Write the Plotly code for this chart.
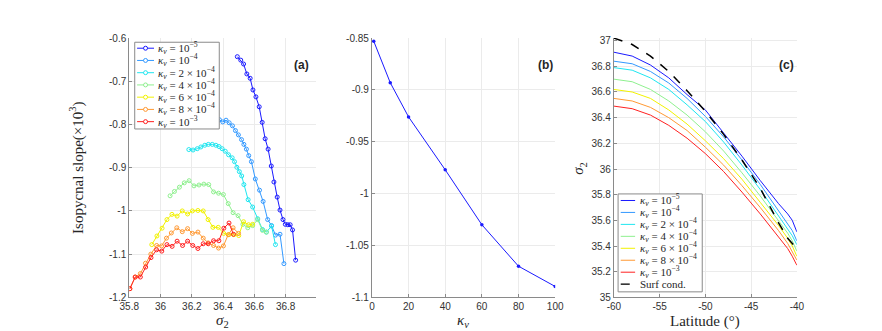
import plotly.graph_objects as go

W, H = 882, 331

# ---- panel (a): isopycnal slope vs sigma2 ----
sig_k5 = [36.491, 36.513, 36.531, 36.552, 36.573, 36.591, 36.610, 36.631, 36.650, 36.669, 36.688,
          36.708, 36.725, 36.746, 36.764, 36.783, 36.798, 36.814, 36.829, 36.844, 36.864]
slp_k5 = [-0.643, -0.651, -0.660, -0.683, -0.693, -0.720, -0.736, -0.759, -0.795, -0.833, -0.857,
          -0.896, -0.933, -0.968, -0.998, -1.020, -1.031, -1.032, -1.032, -1.044, -1.114]

sig_k4 = [36.291, 36.314, 36.336, 36.358, 36.377, 36.398, 36.419, 36.439, 36.460, 36.479, 36.498,
          36.518, 36.533, 36.549, 36.564, 36.581, 36.606, 36.633, 36.656, 36.685, 36.710, 36.735,
          36.764, 36.789]
slp_k4 = [-0.782, -0.774, -0.780, -0.785, -0.789, -0.794, -0.790, -0.796, -0.803, -0.814, -0.824,
          -0.835, -0.846, -0.857, -0.872, -0.886, -0.926, -0.952, -0.978, -1.020, -1.034, -1.056,
          -1.054, -1.122]

sig_k2 = [36.181, 36.208, 36.235, 36.258, 36.283, 36.306, 36.331, 36.354, 36.374, 36.394, 36.414,
          36.435, 36.458, 36.473, 36.488, 36.504, 36.519, 36.533, 36.560, 36.589, 36.621, 36.652,
          36.677, 36.710, 36.735]
slp_k2 = [-0.858, -0.859, -0.856, -0.852, -0.848, -0.846, -0.846, -0.848, -0.851, -0.856, -0.862,
          -0.870, -0.877, -0.886, -0.899, -0.909, -0.919, -0.939, -0.974, -0.991, -1.018, -1.043,
          -1.049, -1.035, -1.078]

sig_k4b = [36.061, 36.089, 36.121, 36.152, 36.183, 36.214, 36.246, 36.277, 36.308, 36.339, 36.371,
           36.402, 36.433, 36.464, 36.496, 36.527, 36.558, 36.589, 36.621, 36.652, 36.677]
slp_k4b = [-0.965, -0.955, -0.945, -0.935, -0.930, -0.942, -0.940, -0.938, -0.939, -0.956, -0.959,
           -0.962, -0.983, -1.004, -1.011, -1.031, -1.039, -1.034, -1.020, -1.045, -1.049]

sig_k6 = [35.944, 35.977, 36.010, 36.041, 36.073, 36.106, 36.139, 36.173, 36.204, 36.239, 36.273,
          36.304, 36.335, 36.369, 36.404, 36.438, 36.469, 36.500, 36.531, 36.563, 36.589]
slp_k6 = [-1.078, -1.058, -1.040, -1.020, -1.008, -1.012, -1.000, -1.007, -1.000, -0.999, -1.000,
          -1.020, -1.038, -1.038, -1.052, -1.055, -1.055, -1.057, -1.025, -1.032, -1.031]

sig_k8 = [35.804, 35.838, 35.871, 35.904, 35.938, 35.975, 36.007, 36.038, 36.069, 36.104, 36.139,
          36.173, 36.204, 36.239, 36.273, 36.305, 36.339, 36.371, 36.402, 36.433, 36.464, 36.499]
slp_k8 = [-1.180, -1.153, -1.145, -1.121, -1.100, -1.080, -1.081, -1.063, -1.051, -1.039, -1.048,
          -1.041, -1.052, -1.049, -1.063, -1.074, -1.080, -1.086, -1.081, -1.055, -1.039, -1.052]

sig_k3 = [35.804, 35.838, 35.871, 35.905, 35.939, 35.975, 36.008, 36.041, 36.074, 36.106, 36.141,
          36.173, 36.206, 36.239, 36.273, 36.305, 36.339, 36.373, 36.405, 36.438, 36.466]
slp_k3 = [-1.180, -1.153, -1.153, -1.130, -1.108, -1.090, -1.093, -1.078, -1.082, -1.070, -1.080,
          -1.070, -1.080, -1.087, -1.076, -1.076, -1.069, -1.069, -1.040, -1.028, -1.054]

# ---- panel (b): mean slope vs kappa_v ----
kv = [1, 10, 20, 40, 60, 80, 100]
slope_mean = [-0.853, -0.893, -0.926, -0.977, -1.030, -1.070, -1.0895]

# ---- panel (c): sigma2 vs latitude ----
lat = [-60, -58, -56, -54, -52, -50, -48, -46, -44, -42, -41, -40.5, -40]
s2_k5 = [36.91, 36.88, 36.81, 36.71, 36.58, 36.46, 36.28, 36.10, 35.91, 35.73, 35.65, 35.60, 35.51]
s2_k4 = [36.84, 36.82, 36.76, 36.67, 36.55, 36.41, 36.25, 36.07, 35.88, 35.68, 35.58, 35.52, 35.44]
s2_k2 = [36.79, 36.77, 36.71, 36.62, 36.50, 36.37, 36.21, 36.03, 35.84, 35.64, 35.54, 35.48, 35.41]
s2_k4b = [36.70, 36.68, 36.62, 36.53, 36.42, 36.29, 36.14, 35.97, 35.79, 35.60, 35.50, 35.44, 35.36]
s2_k6 = [36.62, 36.60, 36.55, 36.46, 36.35, 36.22, 36.08, 35.92, 35.74, 35.56, 35.46, 35.40, 35.32]
s2_k8 = [36.55, 36.53, 36.48, 36.40, 36.30, 36.17, 36.03, 35.87, 35.70, 35.52, 35.42, 35.36, 35.29]
s2_k3 = [36.49, 36.47, 36.42, 36.34, 36.24, 36.12, 35.98, 35.82, 35.65, 35.47, 35.38, 35.32, 35.25]
s2_surf = [37.02, 36.97, 36.88, 36.76, 36.61, 36.45, 36.27, 36.07, 35.85, 35.58, 35.46, 35.42, 35.38]

names = ["<i>κ<sub>v</sub></i> = 10<sup>−5</sup>",
         "<i>κ<sub>v</sub></i> = 10<sup>−4</sup>",
         "<i>κ<sub>v</sub></i> = 2 × 10<sup>−4</sup>",
         "<i>κ<sub>v</sub></i> = 4 × 10<sup>−4</sup>",
         "<i>κ<sub>v</sub></i> = 6 × 10<sup>−4</sup>",
         "<i>κ<sub>v</sub></i> = 8 × 10<sup>−4</sup>",
         "<i>κ<sub>v</sub></i> = 10<sup>−3</sup>"]
colors = ["#1a1aff", "#3399ff", "#1ee6f0", "#8ff08f", "#f2f200", "#ff9933", "#ff2020"]

xa_ticks = [35.8, 36, 36.2, 36.4, 36.6, 36.8]
ya_ticks = [-1.2, -1.1, -1, -0.9, -0.8, -0.7, -0.6]
xb_ticks = [0, 20, 40, 60, 80, 100]
yb_ticks = [-1.1, -1.05, -1, -0.95, -0.9, -0.85]
xc_ticks = [-60, -55, -50, -45, -40]
yc_ticks = [35, 35.2, 35.4, 35.6, 35.8, 36, 36.2, 36.4, 36.6, 36.8, 37]


def px(x):
    return x / W


def py(y):
    return 1 - y / H


def lab(v):
    return "%g" % v


fig = go.Figure()

a_sets = [(sig_k5, slp_k5), (sig_k4, slp_k4), (sig_k2, slp_k2), (sig_k4b, slp_k4b),
          (sig_k6, slp_k6), (sig_k8, slp_k8), (sig_k3, slp_k3)]
for (xs, ys), c in zip(a_sets, colors):
    fig.add_trace(go.Scatter(x=xs, y=ys, mode="lines+markers", xaxis="x", yaxis="y",
                             line=dict(color=c, width=1),
                             marker=dict(symbol="circle-open", size=4, color=c, line=dict(width=1)),
                             showlegend=False))

fig.add_trace(go.Scatter(x=kv, y=slope_mean, mode="lines+markers", xaxis="x2", yaxis="y2",
                         line=dict(color="#1a1aff", width=1),
                         marker=dict(symbol="circle", size=3.5, color="#1a1aff"),
                         showlegend=False))

c_sets = [s2_k5, s2_k4, s2_k2, s2_k4b, s2_k6, s2_k8, s2_k3]
for ys, c in zip(c_sets, colors):
    fig.add_trace(go.Scatter(x=lat, y=ys, mode="lines", xaxis="x3", yaxis="y3",
                             line=dict(color=c, width=1), showlegend=False))
fig.add_trace(go.Scatter(x=lat, y=s2_surf, mode="lines", xaxis="x3", yaxis="y3",
                         line=dict(color="black", width=1.5, dash="dash"), showlegend=False))

ydom = [py(294), py(25)]
tickfont = dict(family="Liberation Sans, Arial", size=10, color="#333333")


def ax(dom, rng, ticks, anchor):
    return dict(domain=dom, range=rng, tickvals=ticks, ticktext=[lab(t) for t in ticks],
                showgrid=True, gridcolor="#ebebeb", gridwidth=1, zeroline=False,
                showline=True, linecolor="#8a8a8a", linewidth=1, mirror=False,
                ticks="inside", ticklen=3, tickcolor="#8a8a8a", tickfont=tickfont,
                anchor=anchor)


fig.update_layout(
    width=W, height=H, margin=dict(l=0, r=0, t=0, b=0),
    paper_bgcolor="white", plot_bgcolor="white",
    xaxis=ax([px(113.7), px(304.7)], [35.8, 36.995], xa_ticks, "y"),
    yaxis=ax(ydom, [-1.2, -0.6], ya_ticks, "x"),
    xaxis2=ax([px(361.7), px(549)], [0, 100], xb_ticks, "y2"),
    yaxis2=ax(ydom, [-1.1, -0.85], yb_ticks, "x2"),
    xaxis3=ax([px(609), px(796)], [-60, -40], xc_ticks, "y3"),
    yaxis3=ax(ydom, [35, 37.02], yc_ticks, "x3"),
)

serif = dict(family="Liberation Serif, Times New Roman", size=15, color="#262626")
ann = []
# axis titles
ann.append(dict(x=px(60), y=py(160), text="Isopycnal slope(×10<sup>3</sup>)", textangle=-90, font=serif))
ann.append(dict(x=px(209), y=py(319), text="<i>σ</i><sub>2</sub>", font=serif))
ann.append(dict(x=px(455), y=py(319), text="<i>κ<sub>v</sub></i>", font=serif))
ann.append(dict(x=px(574), y=py(160), text="<i>σ</i><sub>2</sub>", textangle=-90, font=serif))
ann.append(dict(x=px(702), y=py(319), text="Latitude (°)", font=serif))
# panel tags
bold = dict(family="Liberation Sans, Arial", size=12, color="#262626")
for tx, xx in [("(a)", 290), ("(b)", 539), ("(c)", 785)]:
    ann.append(dict(x=px(xx), y=py(53), text="<b>%s</b>" % tx, font=bold))

shapes = []
legfont = dict(family="Liberation Serif, Times New Roman", size=11, color="#262626")

# legend of panel (a)
shapes.append(dict(type="rect", xref="paper", yref="paper", x0=px(119.3), x1=px(205.7),
                   y0=py(119.3), y1=py(29.3), line=dict(color="#8a8a8a", width=1),
                   fillcolor="white", layer="above"))
for i, (n, c) in enumerate(zip(names, colors)):
    yy = 35.5 + i * 12.7
    shapes.append(dict(type="line", xref="paper", yref="paper", x0=px(121.7), x1=px(139),
                       y0=py(yy), y1=py(yy), line=dict(color=c, width=1), layer="above"))
    shapes.append(dict(type="circle", xref="paper", yref="paper", x0=px(128.3), x1=px(132.4),
                       y0=py(yy + 2.05), y1=py(yy - 2.05), line=dict(color=c, width=1),
                       fillcolor="white", layer="above"))
    ann.append(dict(x=px(141), y=py(yy), text=n, xanchor="left", font=legfont))

# legend of panel (c)
shapes.append(dict(type="rect", xref="paper", yref="paper", x0=px(613.3), x1=px(699.3),
                   y0=py(288.3), y1=py(186.7), line=dict(color="#8a8a8a", width=1),
                   fillcolor="white", layer="above"))
c_names = names + ["Surf cond."]
c_cols = colors + ["black"]
for i, (n, c) in enumerate(zip(c_names, c_cols)):
    yy = 193.5 + i * 12.4
    dash = "dash" if i == 7 else "solid"
    shapes.append(dict(type="line", xref="paper", yref="paper", x0=px(616), x1=px(630.7),
                       y0=py(yy), y1=py(yy), line=dict(color=c, width=1.3 if i == 7 else 1, dash=dash),
                       layer="above"))
    ann.append(dict(x=px(634), y=py(yy), text=n, xanchor="left", font=legfont))

for a in ann:
    a.setdefault("xref", "paper")
    a.setdefault("yref", "paper")
    a.setdefault("showarrow", False)
    a.setdefault("xanchor", "center")
    a.setdefault("yanchor", "middle")

fig.update_layout(annotations=ann, shapes=shapes)

fig.write_html("out.html")
